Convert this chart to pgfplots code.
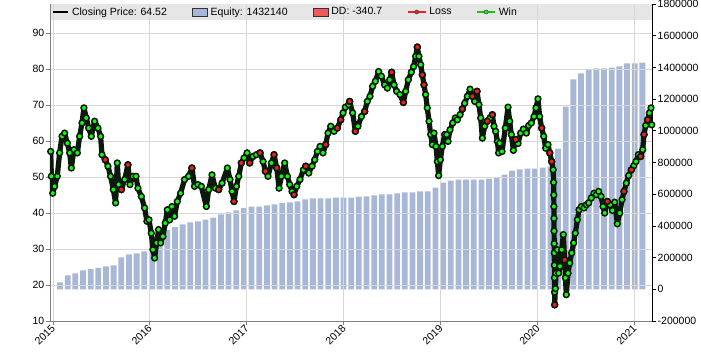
\documentclass[border=0pt]{standalone}
\usepackage{pgfplots}
\pgfplotsset{compat=1.18}
\usepackage{pgfplotstable}
\usepackage{fontspec}
\setmainfont{Liberation Sans}
\definecolor{eqblue}{RGB}{169,183,214}
\definecolor{gridgray}{RGB}{215,215,215}
\definecolor{bandgray}{RGB}{230,230,230}
\definecolor{axgray}{RGB}{128,128,128}
\definecolor{wingreen}{RGB}{20,250,20}
\definecolor{lossred}{RGB}{240,30,30}
\definecolor{ddred}{RGB}{240,90,90}
\definecolor{bandblack}{RGB}{10,25,10}

\pgfplotstableread{
x y
2014.977 57.1
2014.984 50.2
2014.998 45.5
2015.018 47.4
2015.045 50.2
2015.069 56.7
2015.094 61.3
2015.121 62.2
2015.149 59.4
2015.173 56.7
2015.190 52.5
2015.217 57.6
2015.252 56.7
2015.276 61.3
2015.300 65.0
2015.320 69.2
2015.345 66.4
2015.369 63.6
2015.396 61.3
2015.430 65.5
2015.465 63.6
2015.492 61.3
2015.506 56.2
2015.540 54.8
2015.568 53.0
2015.595 50.2
2015.623 46.5
2015.647 42.8
2015.664 53.9
2015.678 47.9
2015.706 46.5
2015.740 49.3
2015.774 53.4
2015.795 47.9
2015.826 50.2
2015.857 50.2
2015.877 46.9
2015.912 44.6
2015.946 41.4
2015.970 37.7
2015.991 38.1
2016.015 34.4
2016.032 29.8
2016.049 27.5
2016.070 31.7
2016.090 35.4
2016.111 31.7
2016.135 33.5
2016.159 37.2
2016.180 40.9
2016.204 38.1
2016.228 41.8
2016.255 39.1
2016.283 43.2
2016.317 45.5
2016.358 49.3
2016.399 50.2
2016.434 52.5
2016.461 47.4
2016.496 47.9
2016.531 47.4
2016.583 41.8
2016.607 46.5
2016.641 50.6
2016.676 46.9
2016.710 46.5
2016.745 48.3
2016.800 52.5
2016.827 49.3
2016.848 46.0
2016.868 43.2
2016.893 47.4
2016.917 50.2
2016.944 53.9
2016.972 55.3
2017.003 56.7
2017.030 53.9
2017.064 55.7
2017.099 56.2
2017.137 56.7
2017.168 54.3
2017.192 51.6
2017.219 50.2
2017.254 53.9
2017.281 56.2
2017.309 52.5
2017.333 46.9
2017.357 50.2
2017.391 53.9
2017.419 50.2
2017.443 47.9
2017.467 46.0
2017.487 45.1
2017.515 47.4
2017.549 49.3
2017.584 52.0
2017.608 53.0
2017.639 51.1
2017.673 53.0
2017.701 54.8
2017.728 57.1
2017.756 58.5
2017.786 56.7
2017.814 59.0
2017.838 62.2
2017.866 64.1
2017.900 62.7
2017.934 63.6
2017.969 65.9
2017.993 67.8
2018.017 69.4
2018.051 70.1
2018.061 71.0
2018.092 67.8
2018.120 62.7
2018.147 64.1
2018.182 66.8
2018.216 68.2
2018.243 71.0
2018.271 72.4
2018.298 75.2
2018.326 76.6
2018.360 79.3
2018.388 78.0
2018.422 75.6
2018.450 74.7
2018.474 77.0
2018.494 79.1
2018.519 75.6
2018.546 73.8
2018.580 72.9
2018.615 70.7
2018.639 73.8
2018.666 77.0
2018.697 79.1
2018.721 80.7
2018.742 83.5
2018.759 86.1
2018.776 83.5
2018.794 81.2
2018.811 78.4
2018.828 75.6
2018.845 72.9
2018.862 69.2
2018.880 65.5
2018.897 61.8
2018.914 59.0
2018.931 62.2
2018.952 58.5
2018.966 54.3
2018.979 50.4
2018.997 54.8
2019.017 58.5
2019.041 61.8
2019.062 61.8
2019.076 59.9
2019.096 63.1
2019.124 65.0
2019.151 66.4
2019.172 65.9
2019.200 67.3
2019.224 68.9
2019.248 70.5
2019.275 72.4
2019.303 74.4
2019.327 72.4
2019.351 71.0
2019.375 73.8
2019.395 70.1
2019.413 66.4
2019.430 60.8
2019.454 64.1
2019.481 65.5
2019.509 66.4
2019.533 67.3
2019.550 64.1
2019.567 62.7
2019.585 59.9
2019.598 56.7
2019.609 59.4
2019.633 57.1
2019.667 63.6
2019.695 69.4
2019.712 65.5
2019.729 61.8
2019.750 57.4
2019.774 60.4
2019.798 59.3
2019.825 62.2
2019.853 63.3
2019.884 62.2
2019.908 64.3
2019.935 65.0
2019.963 66.8
2019.983 69.2
2020.004 71.7
2020.021 66.8
2020.042 63.6
2020.063 61.3
2020.083 58.0
2020.107 59.0
2020.125 56.7
2020.145 54.3
2020.160 52.0
2020.165 48.5
2020.167 45.0
2020.168 41.8
2020.169 38.5
2020.170 35.0
2020.171 31.5
2020.172 28.9
2020.173 25.5
2020.174 22.0
2020.175 18.0
2020.176 14.5
2020.183 19.0
2020.190 23.3
2020.204 29.8
2020.217 23.3
2020.231 25.2
2020.248 29.8
2020.265 34.0
2020.279 27.0
2020.287 22.0
2020.296 17.3
2020.314 23.3
2020.331 26.1
2020.351 28.9
2020.372 31.7
2020.389 34.4
2020.410 38.1
2020.427 40.9
2020.451 41.8
2020.479 41.4
2020.503 42.3
2020.527 42.8
2020.554 44.2
2020.582 45.5
2020.606 45.1
2020.630 46.0
2020.654 44.6
2020.675 41.8
2020.692 40.0
2020.719 43.2
2020.747 42.3
2020.771 40.7
2020.795 43.0
2020.822 37.0
2020.847 40.0
2020.871 43.7
2020.891 46.0
2020.915 48.3
2020.939 50.4
2020.967 52.0
2020.991 53.1
2021.015 54.3
2021.039 56.2
2021.063 55.7
2021.084 57.6
2021.098 61.8
2021.115 64.3
2021.135 65.9
2021.153 67.8
2021.170 69.2
2021.177 64.5
}\pricetab

\pgfplotstableread{
x y
2015.540 54.8
2015.706 46.5
2015.774 53.4
2016.434 52.5
2016.710 46.5
2016.868 43.2
2016.944 53.9
2017.030 53.9
2017.137 56.7
2017.192 51.6
2017.281 56.2
2017.309 52.5
2017.487 45.1
2017.608 53.0
2017.814 59.0
2017.934 63.6
2017.969 65.9
2018.061 71.0
2018.120 62.7
2018.216 68.2
2018.494 79.1
2018.615 70.7
2018.759 86.1
2018.811 78.4
2018.828 75.6
2019.224 68.9
2019.327 72.4
2019.375 73.8
2019.481 65.5
2019.533 67.3
2019.774 60.4
2020.042 63.6
2020.125 56.7
2020.145 54.3
2020.176 14.5
2020.279 27.0
2020.719 43.2
2020.891 46.0
2020.967 52.0
2021.063 55.7
2021.098 61.8
2021.135 65.9
}\losstab

\pgfplotstableread{
i eq
0 44000
1 88000
2 101000
3 120000
4 128000
5 135000
6 145000
7 151000
8 202000
9 221000
10 227000
11 240000
12 257000
13 300000
14 374000
15 393000
16 410000
17 423000
18 429000
19 440000
20 452000
21 473000
22 486000
23 498000
24 513000
25 522000
26 522000
27 530000
28 536000
29 543000
30 549000
31 555000
32 568000
33 574000
34 574000
35 574000
36 578000
37 578000
38 578000
39 585000
40 587000
41 593000
42 599000
43 599000
44 606000
45 612000
46 612000
47 618000
48 618000
49 641000
50 673000
51 686000
52 692000
53 692000
54 692000
55 692000
56 698000
57 705000
58 723000
59 749000
60 757000
61 761000
62 761000
63 768000
64 774000
65 888000
66 1153000
67 1325000
68 1363000
69 1388000
70 1394000
71 1394000
72 1399000
73 1407000
74 1426000
75 1426000
76 1430000
}\eqtab

\begin{document}
\fontsize{10.5}{12}\selectfont
\begin{tikzpicture}
% right axis: equity bars
\begin{axis}[
  scale only axis, width=602pt, height=317pt,
  xmin=-1.305, xmax=77.26,
  ymin=-200000, ymax=1800000,
  axis x line=none,
  axis y line*=right,
  y axis line style={black, line width=0.8pt},
  ytick={-200000,0,200000,400000,600000,800000,1000000,1200000,1400000,1600000,1800000},
  scaled y ticks=false,
  /pgf/number format/.cd, fixed, precision=0, 1000 sep={}, assume math mode=true,
  /pgfplots/.cd,
  tick align=outside, major tick length=4pt,
  ytick style={black, line width=0.8pt},
  yticklabel style={inner xsep=1.5pt},
]
\fill[bandgray] (rel axis cs:0,1) rectangle (rel axis cs:1,0.9495);
\addplot[ybar, bar width=5.8pt, fill=eqblue, draw=none] table[x=i, y=eq] {\eqtab};
\end{axis}
% left axis: price
\begin{axis}[
  scale only axis, width=602pt, height=317pt,
  xmin=2014.97, xmax=2021.18,
  ymin=10, ymax=98.06,
  axis x line*=bottom, axis y line*=left,
  axis line style={axgray, line width=0.8pt},
  xtick={2015,2016,2017,2018,2019,2020,2021},
  ytick={10,20,30,40,50,60,70,80,90},
  /pgf/number format/.cd, 1000 sep={}, assume math mode=true,
  /pgfplots/.cd,
  grid=major, major grid style={gridgray, line width=0.8pt},
  tick align=outside, major tick length=4pt,
  tick style={axgray, line width=0.8pt},
  xticklabel style={rotate=45, anchor=east, inner sep=1pt, yshift=-1.5pt},
  yticklabel style={inner xsep=1.5pt},
  legend columns=5,
  legend style={at={(rel axis cs:0.004,0.9748)}, anchor=west, draw=none, fill=none,
    inner xsep=0pt, inner ysep=0pt,
    /tikz/every even column/.append style={column sep=22pt},
    nodes={inner xsep=3pt, inner ysep=1pt}},
]
\addlegendimage{legend image code/.code={\draw[black, line width=1.4pt] (0pt,0pt) -- (15pt,0pt);}}
\addlegendentry{Closing Price: 64.52}
\addlegendimage{legend image code/.code={\draw[fill=eqblue, draw=black!80, line width=0.8pt] (0pt,-4pt) rectangle (15pt,4pt);}}
\addlegendentry{Equity: 1432140}
\addlegendimage{legend image code/.code={\draw[fill=ddred, draw=black!80, line width=0.8pt] (0pt,-4pt) rectangle (15pt,4pt);}}
\addlegendentry{DD: -340.7}
\addlegendimage{legend image code/.code={\draw[lossred, line width=1.2pt] (0pt,0pt) -- (18pt,0pt); \filldraw[fill=lossred, draw=black!70, line width=0.6pt] (9pt,0pt) circle (2pt);}}
\addlegendentry{Loss}
\addlegendimage{legend image code/.code={\draw[wingreen!80!black, line width=1.2pt] (0pt,0pt) -- (18pt,0pt); \filldraw[fill=wingreen, draw=black!70, line width=0.6pt] (9pt,0pt) circle (2pt);}}
\addlegendentry{Win}
\addplot[forget plot, bandblack, line width=5.2pt, line join=round, line cap=round, mark=none] table[x=x, y=y] {\pricetab};
\addplot[forget plot, only marks, mark=*, mark size=2.9pt, mark options={fill=wingreen, draw=bandblack, line width=1.5pt}] table[x=x, y=y] {\pricetab};
\addplot[forget plot, only marks, mark=*, mark size=2.9pt, mark options={fill=lossred, draw=bandblack, line width=1.5pt}] table[x=x, y=y] {\losstab};
\end{axis}
\pgfresetboundingbox
\path[use as bounding box] (-50pt,-41pt) rectangle (651pt,321pt);
\end{tikzpicture}
\end{document}
